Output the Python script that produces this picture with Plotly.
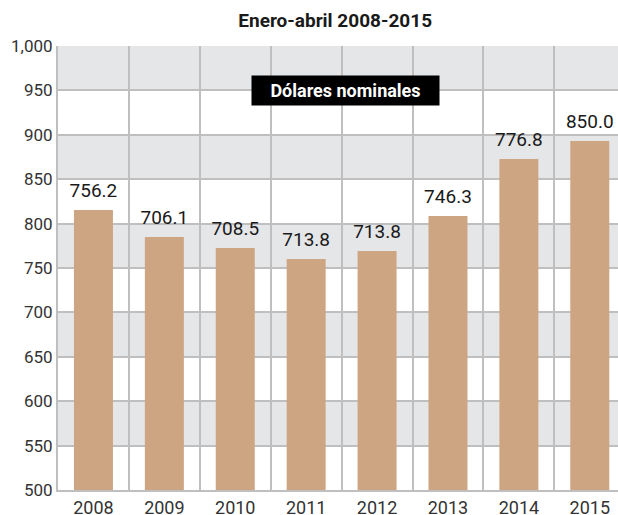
import plotly.graph_objects as go

years = ["2008", "2009", "2010", "2011", "2012", "2013", "2014", "2015"]
bar_values = [815.3, 784.9, 772.5, 760.1, 769.1, 808.6, 872.7, 893.0]
value_labels = ["756.2", "706.1", "708.5", "713.8", "713.8", "746.3", "776.8", "850.0"]
y_ticks = [500, 550, 600, 650, 700, 750, 800, 850, 900, 950, 1000]
band_starts = [550, 650, 750, 850, 950]  # grey bands of 50 units

FONT = "Roboto, sans-serif"
GRID = "#bfbfbf"

x_idx = list(range(len(years)))

fig = go.Figure()
fig.add_trace(go.Bar(
    x=x_idx, y=bar_values, width=0.55,
    marker=dict(color="#cea582", line=dict(width=0)),
    hoverinfo="skip",
))
fig.add_trace(go.Scatter(
    x=x_idx, y=bar_values, mode="markers+text", text=value_labels,
    marker=dict(size=12, opacity=0),
    textposition="top center", cliponaxis=False,
    textfont=dict(family=FONT, size=19, color="#1a1a1a"),
    hoverinfo="skip",
))

shapes = []
for b in band_starts:
    shapes.append(dict(type="rect", xref="paper", yref="y", x0=0, x1=1, y0=b, y1=b + 50,
                       fillcolor="#e5e6e8", line=dict(width=0), layer="below"))

fig.update_layout(
    width=618, height=515,
    margin=dict(l=58, r=0, t=46, b=25, autoexpand=False),
    paper_bgcolor="white", plot_bgcolor="white",
    showlegend=False,
    shapes=shapes,
    title=dict(text="<b>Enero-abril 2008-2015</b>", x=0.495, xref="paper", xanchor="center",
               y=0.961, yanchor="middle", yref="container",
               font=dict(family=FONT, size=19, color="#1a1a1a")),
    font=dict(family=FONT, color="#333333"),
    xaxis=dict(
        range=[-0.5, 7.398], tickvals=x_idx, ticktext=years,
        showgrid=False, zeroline=False, automargin=False,
        showline=True, linecolor=GRID, linewidth=2,
        ticks="", tickfont=dict(family=FONT, size=18, color="#333333"),
        minor=dict(tickvals=[i + 0.5 for i in x_idx[:-1]], showgrid=True,
                   gridcolor=GRID, gridwidth=2, ticks=""),
    ),
    yaxis=dict(
        range=[500, 1000], tickvals=y_ticks, tickformat=",",
        showgrid=True, gridcolor=GRID, gridwidth=2, zeroline=False, automargin=False,
        showline=True, linecolor=GRID, linewidth=2,
        ticks="", tickfont=dict(family=FONT, size=17, color="#333333"),
        layer="below traces",
    ),
    annotations=[dict(
        text="<b>Dólares nominales</b>", xref="paper", yref="y",
        x=0.513, y=950, xanchor="center", yanchor="middle", showarrow=False,
        bgcolor="black", width=181, height=23, borderpad=3,
        font=dict(family=FONT, size=18, color="white"),
    )],
)

fig.write_html("out.html", config={"displayModeBar": False},
               post_script="document.body.style.margin='0';document.body.style.overflow='hidden';")
